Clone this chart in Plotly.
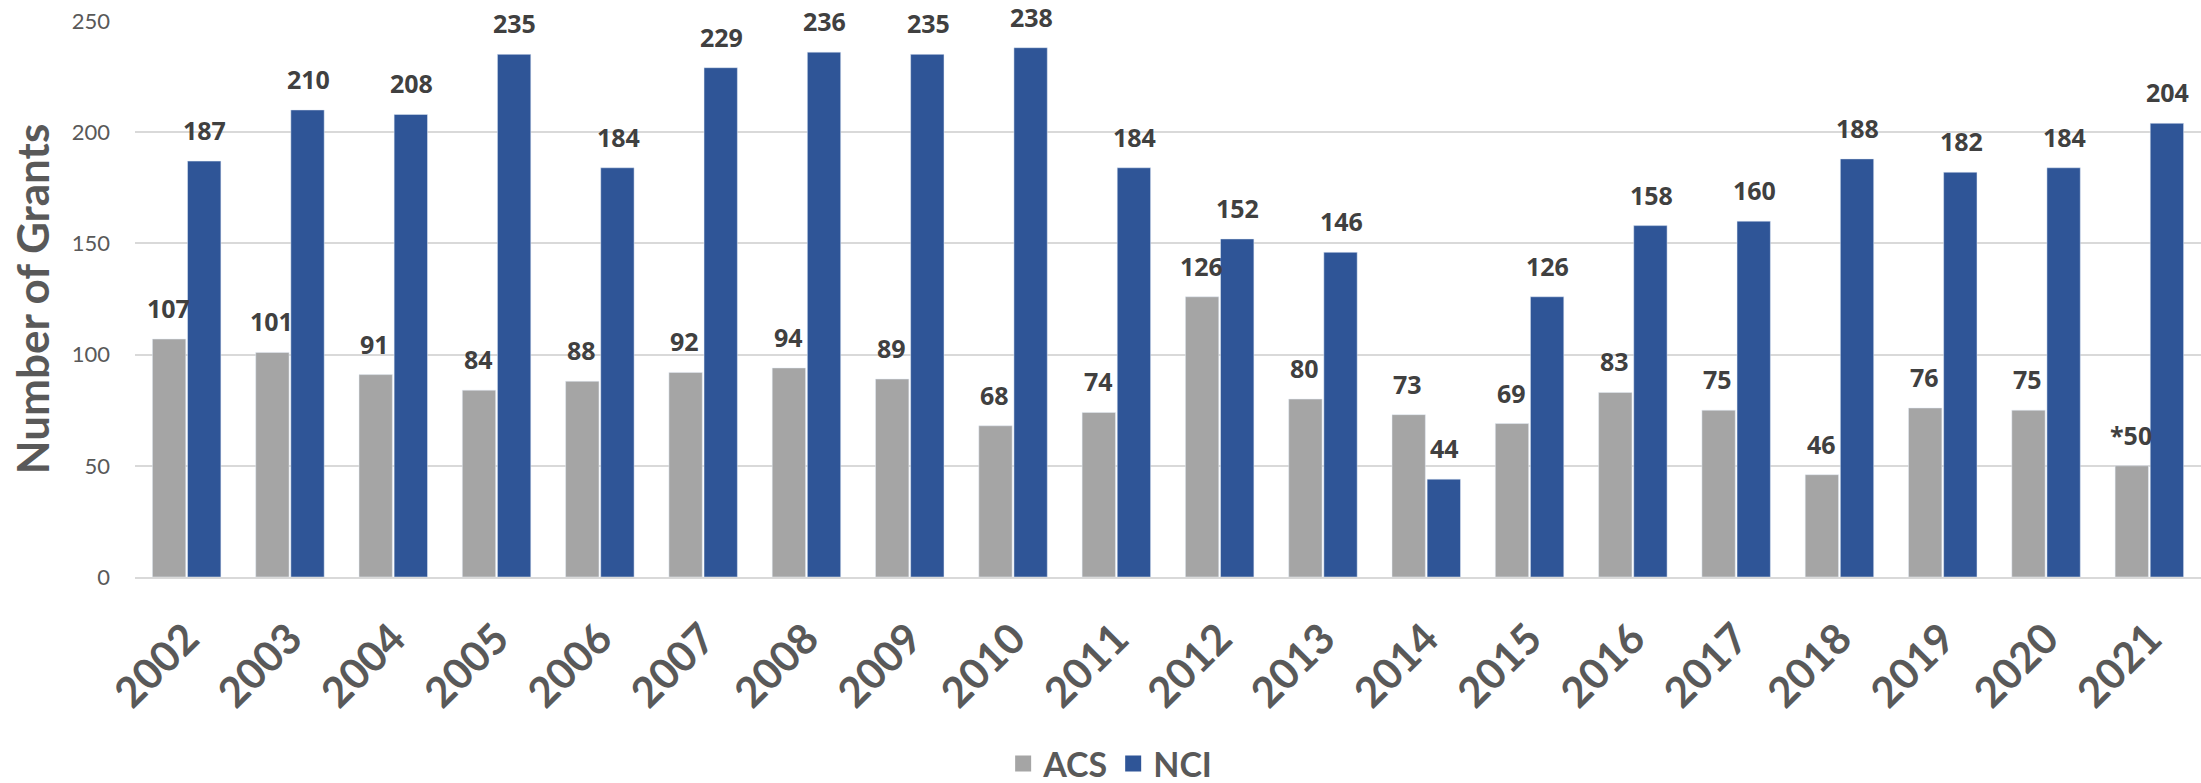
import plotly.graph_objects as go

years = [str(y) for y in range(2002, 2022)]
acs = [107, 101, 91, 84, 88, 92, 94, 89, 68, 74, 126, 80, 73, 69, 83, 75, 46, 76, 75, 50]
nci = [187, 210, 208, 235, 184, 229, 236, 235, 238, 184, 152, 146, 44, 126, 158, 160, 188, 182, 184, 204]
acs_notes = {"2021": "*"}  # footnote marker on the ACS value

ACS_COLOR = "#A5A5A5"
NCI_COLOR = "#2F5597"
TEXT_GRAY = "#595959"
LABEL_GRAY = "#404040"

fig = go.Figure()
fig.add_trace(go.Bar(name="ACS", x=years, y=acs, marker_color=ACS_COLOR, showlegend=False))
fig.add_trace(go.Bar(name="NCI", x=years, y=nci, marker_color=NCI_COLOR, showlegend=False))

# legend entries (square swatches)
for name, col in [("ACS", ACS_COLOR), ("NCI", NCI_COLOR)]:
    fig.add_trace(go.Scatter(x=[years[0]], y=[None], mode="markers", name=name,
                             marker=dict(symbol="square", size=16, color=col)))

annotations = []
BAR_OFF = 18.3
lab_font = dict(family="Open Sans", size=25, color=LABEL_GRAY)
for i, (yr, a, n) in enumerate(zip(years, acs, nci)):
    annotations.append(dict(x=i, y=a, xref="x", yref="y",
                            text="<b>" + acs_notes.get(yr, "") + str(a) + "</b>",
                            showarrow=False, yanchor="bottom", xshift=-BAR_OFF, yshift=12,
                            font=lab_font))
    annotations.append(dict(x=i, y=n, xref="x", yref="y", text="<b>" + str(n) + "</b>",
                            showarrow=False, yanchor="bottom", xshift=BAR_OFF, yshift=12,
                            font=lab_font))

fig.update_layout(
    width=2201, height=783,
    margin=dict(l=135, r=0, t=21, b=206, autoexpand=False),
    paper_bgcolor="white", plot_bgcolor="white",
    barmode="group", bargap=0.32, bargroupgap=0.05,
    annotations=annotations,
    legend=dict(orientation="h", x=0.472, xanchor="center", y=-0.336, yanchor="middle",
                font=dict(family="Lato", size=34, color=TEXT_GRAY, weight="bold"),
                itemwidth=30, traceorder="normal", bgcolor="rgba(0,0,0,0)"),
    xaxis=dict(type="category", range=[-0.5, len(years) - 0.5], tickangle=-45,
               tickfont=dict(family="Lato", size=42, color=TEXT_GRAY, weight="bold"),
               showgrid=False, showline=True, linecolor="#D9D9D9", linewidth=2,
               ticks="", ticklabelstandoff=18, automargin=False),
    yaxis=dict(range=[0, 250], dtick=50, showgrid=True, gridcolor="#D9D9D9", gridwidth=1.5,
               zeroline=False, showline=False, ticks="",
               tickfont=dict(family="Lato", size=22, color=TEXT_GRAY),
               ticklabelstandoff=24, automargin=False,
               title=dict(text="Number of Grants", standoff=8,
                          font=dict(family="Lato", size=44, color=TEXT_GRAY, weight="bold"))),
)

fig.write_html("out.html")
